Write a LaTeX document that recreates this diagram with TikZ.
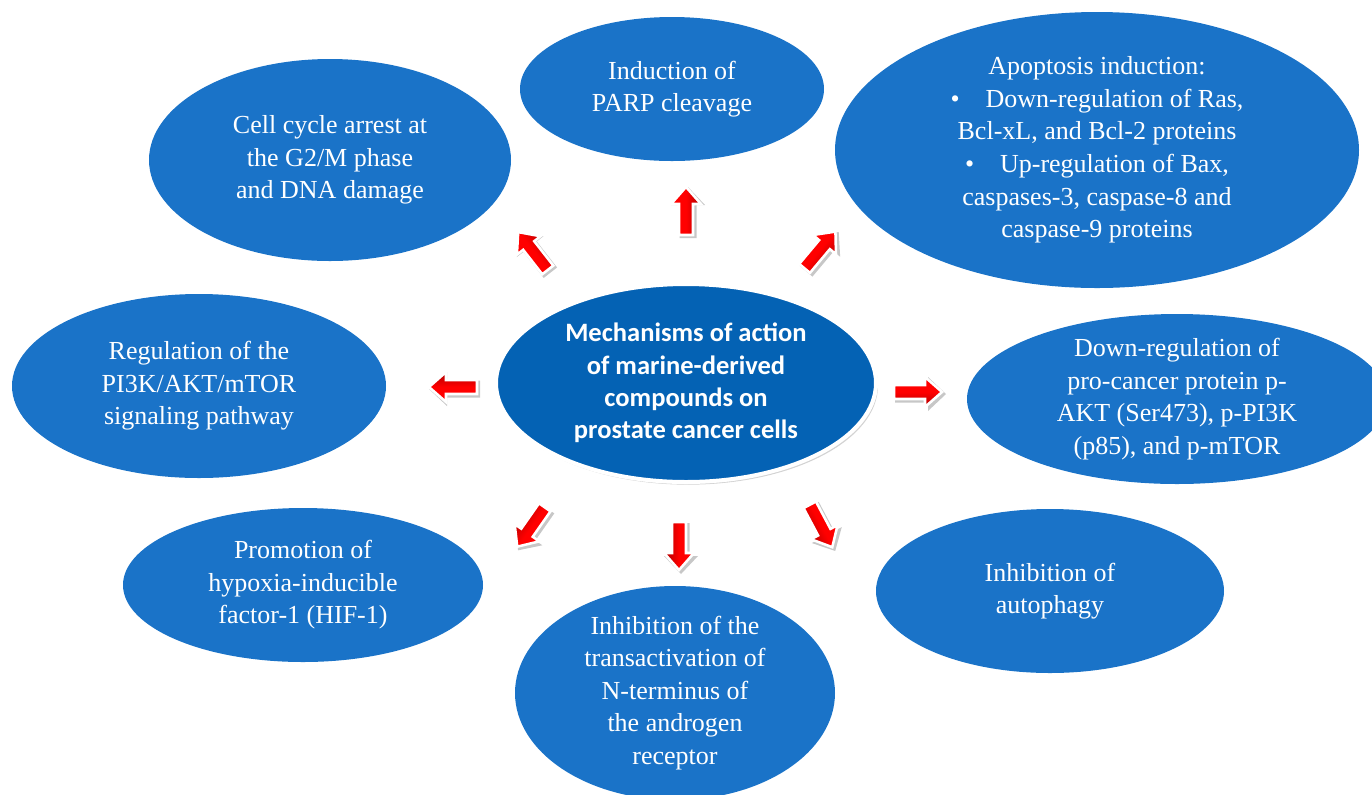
\documentclass[tikz,border=0pt]{standalone}
\usepackage{fontspec}
\setmainfont{Liberation Serif}
\newfontfamily\ctrfont{Carlito}
\usetikzlibrary{shapes.geometric,shadows}
\definecolor{oblue}{RGB}{26,115,200}
\definecolor{cblue}{RGB}{4,98,180}
\def\pu{0.75pt}
\tikzset{
  outer/.style={ellipse, fill=oblue, draw=none, inner sep=0pt},
  otext/.style={text=white, align=center, inner sep=0pt,
    font=\fontsize{19.5}{24.4}\selectfont},
  hubstyle/.style={ellipse, fill=cblue, draw=white, line width=3pt, inner sep=0pt,
    drop shadow={shadow xshift=1.5pt, shadow yshift=-2pt, opacity=0.35}},
  ctext/.style={text=white, align=center, inner sep=0pt,
    font=\ctrfont\bfseries\fontsize{19.9}{24.2}\selectfont},
  barrow/.pic={
    \fill[black, opacity=0.22, xshift=1.5pt, yshift=-1.5pt, rotate=#1]
      (-25,-8.5) -- (8,-8.5) -- (8,-17) -- (26,0) -- (8,17) -- (8,8.5) -- (-25,8.5) -- cycle;
    \path[draw=white, line width=1.9pt, line join=miter, rotate=#1,
      top color=red, bottom color=red!68!black, middle color=red, shading angle=#1]
      (-24,-7) -- (7,-7) -- (7,-15) -- (24,0) -- (7,15) -- (7,7) -- (-24,7) -- cycle;
  }
}
\begin{document}
\begin{tikzpicture}[x=0.75pt, y=-0.75pt]
\useasboundingbox (0,0) rectangle (1372,794);
\clip (0,0) rectangle (1372,794);

% outer ellipses
\node[outer, minimum width=362*\pu, minimum height=202*\pu] (cc)  at (330,160) {};
\node[outer, minimum width=304*\pu, minimum height=144*\pu] (parp) at (672,89) {};
\node[outer, minimum width=524*\pu, minimum height=276*\pu] (apo) at (1097,150) {};
\node[outer, minimum width=374*\pu, minimum height=184*\pu] (pik) at (199,386) {};
\node[outer, minimum width=420*\pu, minimum height=170*\pu] (pro) at (1177,399) {};
\node[outer, minimum width=360*\pu, minimum height=154*\pu] (hif) at (303,585) {};
\node[outer, minimum width=320*\pu, minimum height=214*\pu] (tra) at (675,693) {};
\node[outer, minimum width=348*\pu, minimum height=164*\pu] (aut) at (1050,591) {};

% central ellipse
\node[hubstyle, minimum width=380*\pu, minimum height=198*\pu] (hub) at (686,383) {};

% texts
\node[otext] (cct) at (cc) {Cell cycle arrest at\\the G2/M phase\\and DNA damage};
\node[otext] (parpt) at (parp) {Induction of\\PARP cleavage};
\node[otext] (apot) at (apo) {Apoptosis induction:\\
  \textbullet\quad Down-regulation of Ras,\\
  Bcl-xL, and Bcl-2 proteins\\
  \textbullet\quad Up-regulation of Bax,\\
  caspases-3, caspase-8 and\\
  caspase-9 proteins};
\node[otext] (pikt) at (pik) {Regulation of the\\PI3K/AKT/mTOR\\signaling pathway};
\node[otext] (prot) at (pro) {Down-regulation of\\pro-cancer protein p-\\AKT (Ser473), p-PI3K\\(p85), and p-mTOR};
\node[otext] (hift) at (hif) {Promotion of\\hypoxia-inducible\\factor-1 (HIF-1)};
\node[otext] (trat) at (tra) {Inhibition of the\\transactivation of\\N-terminus of\\the androgen\\receptor};
\node[otext] (autt) at (aut) {Inhibition of\\autophagy};
\node[ctext] (hubt) at (hub) {Mechanisms of action\\of marine-derived\\compounds on\\prostate cancer cells};

% block arrows
\pic at (686,211) {barrow=90};
\pic at (820,250) {barrow=50};
\pic at (533,251) {barrow=128};
\pic at (453,387) {barrow=180};
\pic at (918,392) {barrow=0};
\pic at (531,527) {barrow=235};
\pic at (679,546) {barrow=270};
\pic at (821,526) {barrow=298};
\end{tikzpicture}
\end{document}
